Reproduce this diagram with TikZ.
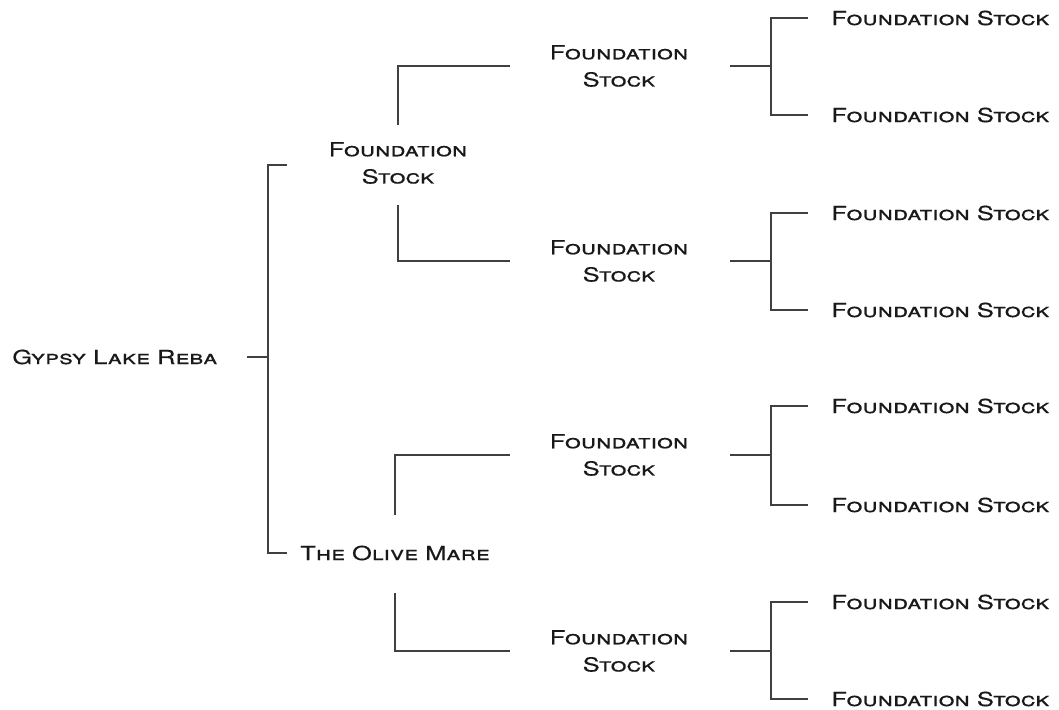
\documentclass[tikz,border=0pt]{standalone}
\usepackage{fontspec}
\setmainfont{TeX Gyre Heros}[FakeStretch=1.32, FakeBold=0.4]
\newlength{\pxu}
\setlength{\pxu}{0.02cm}
\tikzset{
  tree/.style={draw=black!75, line width=0.9pt},
  lbl/.style={font=\fontsize{11}{13.5}\selectfont\scshape, text=black!90, inner sep=0pt, align=center},
}

\begin{document}
\begin{tikzpicture}[x=0.02cm, y=-0.02cm]
  \useasboundingbox (0,0) rectangle (1059,710);
  % the horse and its parents
  \node[lbl, anchor=west] (root) at (12,357) {Gypsy Lake Reba};
  \node[lbl] (sire) at (398,163) {Foundation\\[2pt]Stock};
  \node[lbl] (dam) at (395,553) {The Olive Mare};
  % grandparents
  \node[lbl] (gp1) at (619,66) {Foundation\\[2pt]Stock};
  \node[lbl] (gp2) at (619,261) {Foundation\\[2pt]Stock};
  \node[lbl] (gp3) at (619,455) {Foundation\\[2pt]Stock};
  \node[lbl] (gp4) at (619,651) {Foundation\\[2pt]Stock};
  % great-grandparents
  \foreach \i/\y in {1/18, 2/115, 3/213, 4/310, 5/406, 6/505, 7/602, 8/699}
    \node[lbl, anchor=west] (ggp\i) at (831,\y) {Foundation Stock};

  % root bracket
  \coordinate (rj) at (268,357);
  \draw[tree] (rj) -- ++(-21,0);
  \draw[tree] ([xshift=-111\pxu, yshift=-2\pxu]sire.center) -| (rj) |- ([xshift=-108\pxu]dam.center);
  % parents to grandparents
  \draw[tree] ([yshift=38\pxu]sire.center) |- ([xshift=-109\pxu]gp1.center);
  \draw[tree] ([yshift=-42\pxu]sire.center) |- ([xshift=-109\pxu]gp2.center);
  \draw[tree] ([yshift=38\pxu]dam.center) |- ([xshift=-109\pxu]gp3.center);
  \draw[tree] ([yshift=-40\pxu]dam.center) |- ([xshift=-109\pxu]gp4.center);
  % grandparents to great-grandparents
  \foreach \g/\a/\b in {gp1/ggp1/ggp2, gp2/ggp3/ggp4, gp3/ggp5/ggp6, gp4/ggp7/ggp8} {
    \draw[tree] ([xshift=111\pxu]\g.center) -- ([xshift=152\pxu]\g.center) coordinate (j);
    \draw[tree] ([xshift=-23\pxu]\a.west) -| (j) |- ([xshift=-23\pxu]\b.west);
  }
\end{tikzpicture}
\end{document}
